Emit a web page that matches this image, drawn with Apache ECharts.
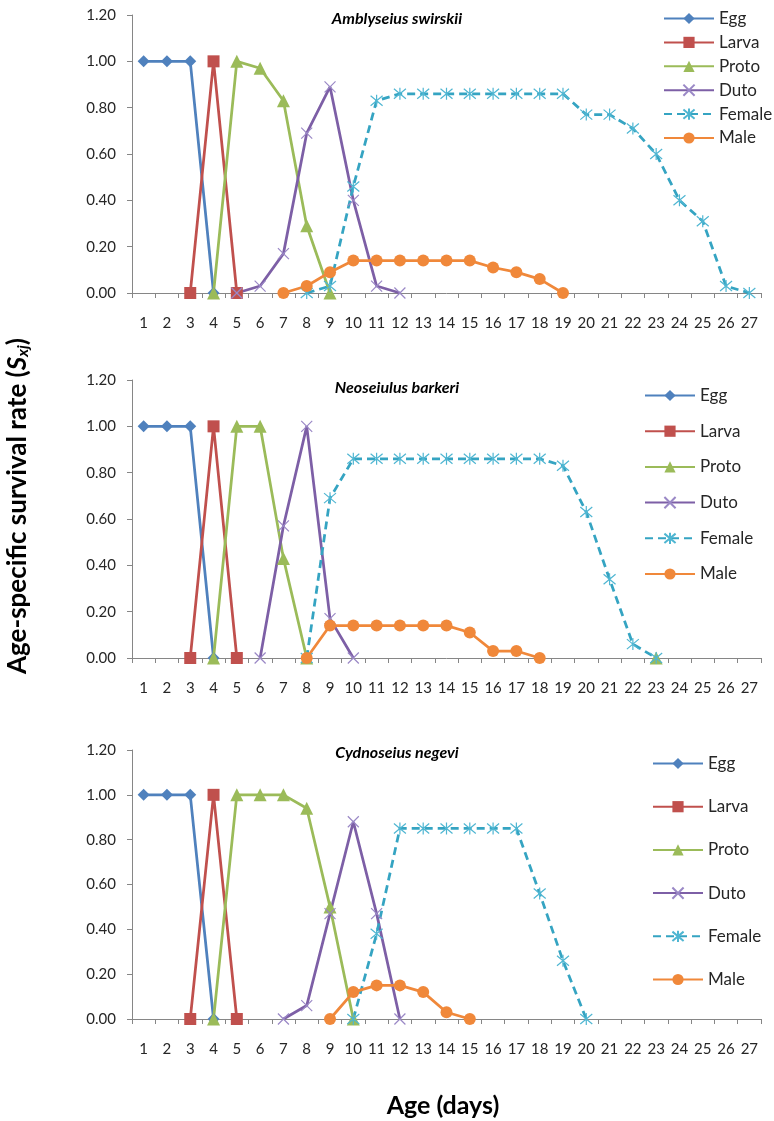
<!DOCTYPE html>
<html>
<head>
<meta charset="utf-8">
<script src="https://cdn.jsdelivr.net/npm/echarts@6/dist/echarts.min.js"></script>
<style>
html,body{margin:0;padding:0;background:#fff;}
#chart{width:774px;height:1121px;}
</style>
</head>
<body>
<div id="chart"></div>
<script>
// ---------- data ----------
const days = ['1','2','3','4','5','6','7','8','9','10','11','12','13','14','15','16','17','18','19','20','21','22','23','24','25','26','27'];
const yTicks = ['0.00','0.20','0.40','0.60','0.80','1.00','1.20'];
const seriesNames = ['Egg','Larva','Proto','Duto','Female','Male'];
const panelTitles = ['Amblyseius swirskii','Neoseiulus barkeri','Cydnoseius negevi'];

// each stage: first day with a value, then the values per day
// Amblyseius swirskii
const swEggStart = 1,    swEgg    = [1.00,1.00,1.00,0.00];
const swLarvaStart = 3,  swLarva  = [0.00,1.00,0.00];
const swProtoStart = 4,  swProto  = [0.00,1.00,0.97,0.83,0.29,0.00];
const swDutoStart = 5,   swDuto   = [0.00,0.03,0.17,0.69,0.89,0.40,0.03,0.00];
const swFemaleStart = 8, swFemale = [0.00,0.03,0.46,0.83,0.86,0.86,0.86,0.86,0.86,0.86,0.86,0.86,0.77,0.77,0.71,0.60,0.40,0.31,0.03,0.00];
const swMaleStart = 7,   swMale   = [0.00,0.03,0.09,0.14,0.14,0.14,0.14,0.14,0.14,0.11,0.09,0.06,0.00];

// Neoseiulus barkeri
const nbEggStart = 1,    nbEgg    = [1.00,1.00,1.00,0.00];
const nbLarvaStart = 3,  nbLarva  = [0.00,1.00,0.00];
const nbProtoStart = 4,  nbProto  = [0.00,1.00,1.00,0.43,0.00,null,null,null,null,null,null,null,null,null,null,null,null,null,null,0.00];
const nbDutoStart = 6,   nbDuto   = [0.00,0.57,1.00,0.17,0.00];
const nbFemaleStart = 8, nbFemale = [0.00,0.69,0.86,0.86,0.86,0.86,0.86,0.86,0.86,0.86,0.86,0.83,0.63,0.34,0.06,0.00];
const nbMaleStart = 8,   nbMale   = [0.00,0.14,0.14,0.14,0.14,0.14,0.14,0.11,0.03,0.03,0.00];

// Cydnoseius negevi
const cnEggStart = 1,    cnEgg    = [1.00,1.00,1.00,0.00];
const cnLarvaStart = 3,  cnLarva  = [0.00,1.00,0.00];
const cnProtoStart = 4,  cnProto  = [0.00,1.00,1.00,1.00,0.94,0.50,0.00];
const cnDutoStart = 7,   cnDuto   = [0.00,0.06,0.47,0.88,0.47,0.00];
const cnFemaleStart = 10,cnFemale = [0.00,0.38,0.85,0.85,0.85,0.85,0.85,0.85,0.56,0.26,0.00];
const cnMaleStart = 9,   cnMale   = [0.00,0.12,0.15,0.15,0.12,0.03,0.00];

function pad(start, vals){
  const out = days.map(()=>null);
  vals.forEach((v,i)=>{ out[start-1+i] = v; });
  return out;
}

const panels = [
  [pad(swEggStart,swEgg),pad(swLarvaStart,swLarva),pad(swProtoStart,swProto),pad(swDutoStart,swDuto),pad(swFemaleStart,swFemale),pad(swMaleStart,swMale)],
  [pad(nbEggStart,nbEgg),pad(nbLarvaStart,nbLarva),pad(nbProtoStart,nbProto),pad(nbDutoStart,nbDuto),pad(nbFemaleStart,nbFemale),pad(nbMaleStart,nbMale)],
  [pad(cnEggStart,cnEgg),pad(cnLarvaStart,cnLarva),pad(cnProtoStart,cnProto),pad(cnDutoStart,cnDuto),pad(cnFemaleStart,cnFemale),pad(cnMaleStart,cnMale)]
];

// ---------- styling ----------
const FONT = 'Lato';
const colors = ['#4F81BD','#C0504D','#9BBB59','#7D5FA6','#35A4C2','#F0883A'];
const crossPath = 'path://M0,0L10,10M10,0L0,10';
const starPath = 'path://M0,0L10,10M10,0L0,10M5,-1L5,11';
const symbolDefs = [
  {symbol:'diamond', size:12},
  {symbol:'rect', size:12},
  {symbol:'triangle', size:13},
  {symbol:crossPath, size:11},
  {symbol:starPath, size:12},
  {symbol:'circle', size:12}
];

const grids = [
  {left:132, right:13, top:15, height:278},
  {left:132, right:13, top:380, height:278},
  {left:132, right:13, top:750, height:269}
];
const titleTops = [11, 380, 745];
const legendDefs = [
  {left:663, top:10, itemGap:6.9},
  {left:644, top:387, itemGap:18.7},
  {left:652, top:755, itemGap:26.2}
];

const option = {
  backgroundColor:'#fff',
  animation:false,
  textStyle:{fontFamily:FONT},
  title: panelTitles.map((t,i)=>({
    text:t, left:397, top:titleTops[i], textAlign:'center', padding:0,
    textStyle:{fontFamily:FONT, fontSize:16, fontWeight:'bold', fontStyle:'italic', color:'#000'}
  })),
  grid: grids,
  xAxis: grids.map((g,i)=>({
    type:'category', gridIndex:i, data:days, boundaryGap:true,
    axisLine:{lineStyle:{color:'#868686', width:1}},
    axisTick:{show:true, length:5, interval:0, lineStyle:{color:'#868686'}},
    axisLabel:{interval:0, margin:23, fontFamily:FONT, fontSize:15, color:'#262626'},
    splitLine:{show:false}
  })),
  yAxis: grids.map((g,i)=>({
    type:'value', gridIndex:i, min:0, max:1.2, interval:0.2,
    axisLine:{show:true, lineStyle:{color:'#868686', width:1}},
    axisTick:{show:true, length:5, lineStyle:{color:'#868686'}},
    axisLabel:{margin:16, fontFamily:FONT, fontSize:15, color:'#262626',
      formatter:(v)=>yTicks[Math.round(v/0.2)]},
    splitLine:{show:false}
  })),
  legend: legendDefs.map((l,i)=>({
    orient:'vertical', left:l.left, top:l.top, itemGap:l.itemGap,
    itemWidth:50, itemHeight:14, padding:0,
    data:seriesNames,
    textStyle:{fontFamily:FONT, fontSize:17, color:'#262626'}
  })),
  series: [],
  graphic: [
    {type:'text', x:18, y:506, rotation:Math.PI/2,
      style:{
        text:'{b|Age-specific survival rate (}{s|S}{sub|xj}{b|)}',
        textAlign:'center', textVerticalAlign:'middle',
        rich:{
          b:{fontFamily:FONT, fontSize:26, fontWeight:'bold', fill:'#000'},
          s:{fontFamily:FONT, fontSize:26, fontWeight:'bold', fontStyle:'italic', fill:'#000'},
          sub:{fontFamily:FONT, fontSize:16, fontWeight:'bold', fontStyle:'italic', fill:'#000', padding:[10,0,0,0]}
        }
      }},
    {type:'text', x:443, y:1106,
      style:{text:'Age (days)', textAlign:'center', textVerticalAlign:'middle',
        fontFamily:FONT, fontSize:25, fontWeight:'bold', fill:'#000'}}
  ]
};

panels.forEach((panel,pi)=>{
  panel.forEach((data,si)=>{
    const isStroke = si===3 || si===4;
    option.series.push({
      type:'line', name:seriesNames[si], xAxisIndex:pi, yAxisIndex:pi,
      data:data, connectNulls:false,
      symbol:symbolDefs[si].symbol, symbolSize:symbolDefs[si].size, showAllSymbol:true,
      lineStyle:{color:colors[si], width:2.75, type: si===4 ? [8,5] : 'solid'},
      itemStyle: isStroke
        ? {color:'rgba(0,0,0,0)', borderColor: si===3 ? '#9A88C6' : '#4FB6D2', borderWidth:1.2}
        : {color:colors[si], borderColor:colors[si], borderWidth:0},
      emphasis:{disabled:true}
    });
  });
});

const chart = echarts.init(document.getElementById('chart'), null, {renderer:'canvas'});
chart.setOption(option);
</script>
</body>
</html>
